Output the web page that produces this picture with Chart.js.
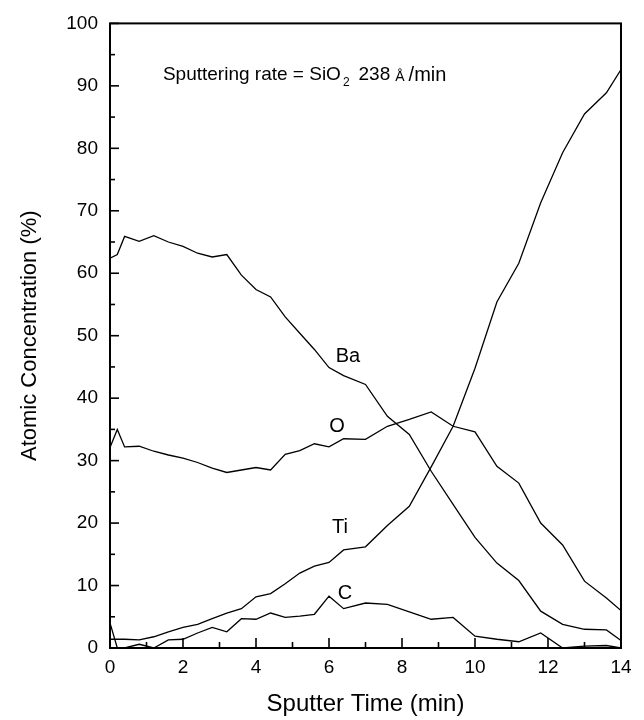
<!DOCTYPE html>
<html><head><meta charset="utf-8">
<script src="https://cdn.jsdelivr.net/npm/chart.js@4.4.0/dist/chart.umd.min.js"></script>
<style>html,body{margin:0;padding:0;background:#fff}</style>
</head><body>
<canvas id="c" width="644" height="720" style="display:block;width:644px;height:720px"></canvas>
<script>
const times = [0,0.2,0.4,0.8,1.2,1.6,2.0,2.4,2.8,3.2,3.6,4.0,4.4,4.8,5.2,5.6,6.0,6.4,7.0,7.6,8.2,8.8,9.4,10.0,10.6,11.2,11.8,12.4,13.0,13.6,14.0];
const ba = [62.4,63.0,65.9,65.1,66.0,65.0,64.3,63.2,62.6,63.0,59.7,57.4,56.2,53.0,50.4,47.8,44.9,43.6,42.2,37.1,34.2,28.3,23.0,17.7,13.6,10.8,5.9,3.8,3.0,2.9,1.2];
const oxy = [32.1,35.0,32.2,32.3,31.5,30.9,30.4,29.7,28.8,28.1,28.5,28.9,28.5,31.0,31.6,32.7,32.2,33.5,33.4,35.5,36.6,37.8,35.5,34.6,29.1,26.4,20.0,16.5,10.7,8.0,6.0];
const ti = [1.4,1.4,1.4,1.3,1.8,2.6,3.3,3.8,4.7,5.6,6.3,8.2,8.7,10.3,12.0,13.1,13.7,15.7,16.2,19.6,22.7,29.0,35.5,44.8,55.4,61.6,71.3,79.3,85.5,88.9,92.6];
const carbon = [4.0,0,0,0.6,0,1.3,1.4,2.4,3.3,2.6,4.7,4.6,5.6,4.9,5.1,5.4,8.3,6.3,7.2,7.0,5.8,4.6,4.9,1.9,1.4,1.0,2.4,0,0.3,0.4,0];
const seriesNames = ['Ba','O','Ti','C'];
const labelPos = [[6.52,46.7],[6.22,35.4],[6.3,19.3],[6.44,8.8]];
const xTicks = [0,2,4,6,8,10,12,14];
const yTicks = [0,10,20,30,40,50,60,70,80,90,100];
const xTitle = 'Sputter Time (min)';
const yTitle = 'Atomic Concentration (%)';

const FONT = '"Liberation Sans", Arial, Helvetica, sans-serif';
const mk = (arr) => arr.map((v,i)=>({x:times[i], y:v}));
const ds = (name, arr) => ({label:name, data:mk(arr), borderColor:'#000', borderWidth:1.3, pointRadius:0, fill:false, tension:0});

const decor = {
  id:'decor',
  afterDraw(chart){
    const {ctx, chartArea:a, scales:{x,y}} = chart;
    ctx.save();
    ctx.strokeStyle = '#000';
    ctx.lineWidth = 1.6;
    const line = (x1,y1,x2,y2)=>{ctx.beginPath();ctx.moveTo(x1,y1);ctx.lineTo(x2,y2);ctx.stroke();};
    for (let v=0; v<=100; v+=5){ const p=y.getPixelForValue(v); line(a.left,p,a.left+(v%10===0?9:5),p); }
    for (let v=0; v<=14; v+=1){ const p=x.getPixelForValue(v); line(p,a.bottom,p,a.bottom-(v%2===0?10:6)); }
    ctx.lineWidth = 2;
    ctx.strokeRect(a.left,a.top,a.right-a.left,a.bottom-a.top);
    ctx.fillStyle = '#000';
    ctx.font = '20px ' + FONT;
    ctx.textAlign = 'center'; ctx.textBaseline = 'middle';
    seriesNames.forEach((n,i)=>{ ctx.fillText(n, x.getPixelForValue(labelPos[i][0]), y.getPixelForValue(labelPos[i][1])); });
    // annotation
    let px = x.getPixelForValue(1.45), py = y.getPixelForValue(91.7);
    ctx.textAlign = 'left'; ctx.textBaseline = 'middle';
    ctx.font = '19px ' + FONT;
    const t1 = 'Sputtering rate = SiO';
    ctx.fillText(t1, px, py); px += ctx.measureText(t1).width;
    ctx.font = '12px ' + FONT;
    ctx.fillText('2', px+2, py+7); px += ctx.measureText('2').width + 11;
    ctx.font = '19px ' + FONT;
    ctx.fillText('238', px, py); px += ctx.measureText('238').width + 5;
    ctx.font = '14px ' + FONT;
    ctx.fillText('Å', px, py+2); px += ctx.measureText('Å').width + 4;
    ctx.font = '20px ' + FONT;
    ctx.fillText('/min', px, py);
    ctx.restore();
  }
};

new Chart(document.getElementById('c'), {
  type:'line',
  data:{ datasets:[ds('Ba',ba), ds('O',oxy), ds('Ti',ti), ds('C',carbon)] },
  options:{
    responsive:false, animation:false, devicePixelRatio:1,
    layout:{padding:{left:0, top:20, right:23, bottom:0}},
    plugins:{legend:{display:false}, tooltip:{enabled:false}},
    scales:{
      x:{type:'linear', min:0, max:14,
        afterBuildTicks:(s)=>{s.ticks = xTicks.map(v=>({value:v}));},
        afterFit:(s)=>{s.height = 72;},
        grid:{display:false, drawTicks:false}, border:{display:false},
        ticks:{color:'#000', font:{size:19, family:FONT}, padding:8, maxRotation:0},
        title:{display:true, text:xTitle, color:'#000', font:{size:24, family:FONT}, padding:{top:0,bottom:1}}
      },
      y:{type:'linear', min:0, max:100,
        afterBuildTicks:(s)=>{s.ticks = yTicks.map(v=>({value:v}));},
        afterFit:(s)=>{s.width = 110;},
        grid:{display:false, drawTicks:false}, border:{display:false},
        ticks:{color:'#000', font:{size:19, family:FONT}, padding:12},
        title:{display:true, text:yTitle, color:'#000', font:{size:22, family:FONT}, padding:{top:17,bottom:0}}
      }
    }
  },
  plugins:[decor]
});
</script>
</body></html>
